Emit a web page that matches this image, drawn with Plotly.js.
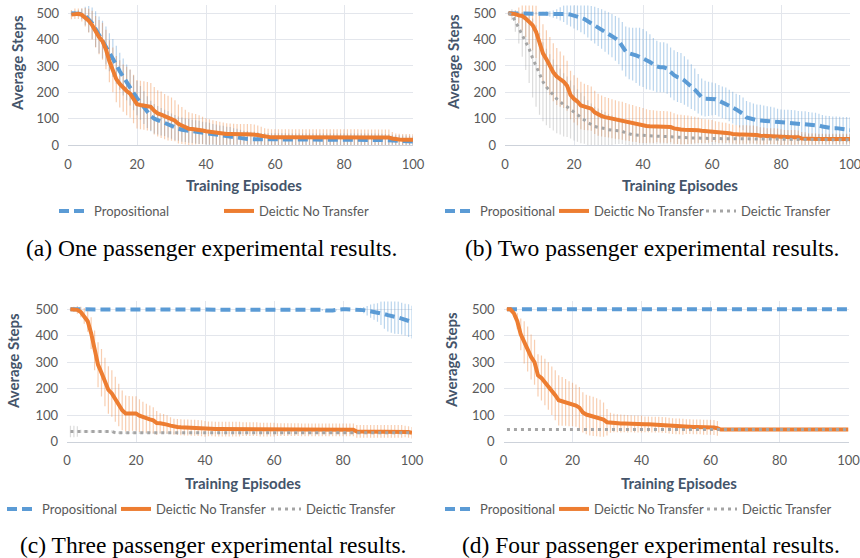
<!DOCTYPE html>
<html>
<head>
<meta charset="utf-8">
<script src="https://cdn.plot.ly/plotly-3.0.1.min.js"></script>
<style>html,body{margin:0;padding:0;background:#fff;}#chart{width:860px;height:558px;}</style>
</head>
<body>
<div id="chart"></div>
<script>
// ---------- DATA ----------
const episodes = [1,2,3,4,5,6,7,8,9,10,11,12,13,14,15,16,17,18,19,20,21,22,23,24,25,26,27,28,29,30,31,32,33,34,35,36,37,38,39,40,41,42,43,44,45,46,47,48,49,50,51,52,53,54,55,56,57,58,59,60,61,62,63,64,65,66,67,68,69,70,71,72,73,74,75,76,77,78,79,80,81,82,83,84,85,86,87,88,89,90,91,92,93,94,95,96,97,98,99,100];

const seriesNames = ["Propositional", "Deictic No Transfer", "Deictic Transfer"];
const xTickVals = [0, 20, 40, 60, 80, 100];
const yTickVals = [0, 100, 200, 300, 400, 500];
const xTitle = "Training Episodes";
const yTitle = "Average Steps";
const captions = ["(a) One passenger experimental results.", "(b) Two passenger experimental results.",
                  "(c) Three passenger experimental results.", "(d) Four passenger experimental results."];

// (a) one passenger
const propA = [500,500,500,497,490,478,462,440,418,400, 378,352,330,305,280,258,238,218,198,178, 160,142,125,110,100,94,88,84,78,72, 66,62,58,56,54,52,50,48,46,44, 42,40,38,36,35,33,32,30,28,26, 24,23,22,22,21,20,20,20,20,20, 20,20,20,20,20,20,20,20,20,20, 20,20,20,20,20,20,20,20,20,20, 20,20,20,20,20,20,20,20,20,20, 19,18,17,16,15,15,14,14,13,13];
const propAErr = [8,10,12,20,35,50,60,68,70,72, 72,72,72,72,70,70,68,68,66,65, 64,62,60,58,56,54,52,50,50,48, 48,46,46,45,45,44,44,44,42,42, 42,40,40,38,38,36,36,34,34,32, 30,30,28,28,27,26,26,25,25,25, 25,25,25,24,24,24,24,24,24,24, 24,24,24,24,24,24,24,24,24,24, 24,24,24,24,24,24,24,24,24,24, 24,24,24,23,22,22,22,22,22,22];
const noTrA = [495,498,498,494,485,472,455,430,410,394, 363,318,285,250,232,216,205,195,175,155, 152,150,147,145,130,120,115,108,102,98, 92,80,74,68,62,61,60,58,55,52, 50,48,46,44,43,42,42,41,41,41, 41,41,41,40,38,35,32,30,29,29, 29,29,29,29,29,29,29,29,29,29, 29,29,29,29,29,29,29,29,29,29, 29,29,29,29,28,28,28,28,28,28, 28,28,28,25,22,21,20,20,20,20];
const noTrAErr = [18,20,20,25,35,45,55,60,65,70, 75,80,85,88,90,90,92,92,92,92, 92,92,92,90,90,88,88,86,85,82, 78,74,70,66,62,60,58,55,52,50, 48,46,45,44,42,41,40,40,39,39, 39,39,39,38,36,34,32,32,31,31, 31,31,31,31,31,31,31,31,31,31, 31,31,31,31,31,31,31,31,31,31, 31,31,31,31,31,31,31,31,31,31, 31,31,31,24,22,22,22,22,22,22];

// (b) two passengers
const propB = [500,500,500,500,500,500,500,500,500,500, 500,499,498,497,497,498,499,497,495,492, 488,483,478,470,462,455,448,440,432,424, 415,405,395,375,355,348,345,340,335,330, 322,315,306,298,295,295,290,275,265,258, 254,245,235,222,210,195,182,176,175,175, 174,168,162,158,150,142,135,128,118,105, 100,96,94,93,92,91,90,88,86,85, 84,84,83,82,81,80,80,79,78,77, 74,70,67,66,64,64,62,60,58,57];
const propBErr = [0,0,0,0,2,3,4,5,5,5, 6,8,10,14,18,25,32,40,45,50, 52,55,58,62,66,70,72,75,78,80, 82,85,88,92,95,98,100,105,110,110, 110,105,100,98,95,95,95,95,95,95, 95,92,90,85,80,75,70,68,65,62, 60,60,60,60,60,60,60,62,62,62, 62,62,60,60,58,56,55,54,52,50, 50,50,50,50,48,48,48,46,45,45, 45,44,44,44,44,44,45,46,48,48];
const noTrB = [500,500,497,492,490,480,468,455,430,388, 348,326,300,276,260,250,240,225,190,175, 165,150,145,142,138,124,115,110,106,103, 100,97,94,92,88,85,82,79,76,74, 72,71,70,70,69,69,68,68,63,60, 59,58,58,57,57,56,54,53,53,53, 50,48,47,46,45,42,40,40,40,40, 40,40,38,35,34,34,34,34,33,30, 29,29,29,29,29,25,24,23,23,23, 23,23,23,23,23,23,23,23,23,23];
const noTrBErr = [5,8,15,30,55,70,85,95,100,105, 110,110,110,110,108,105,100,95,92,90, 90,90,88,86,84,82,80,78,76,75, 74,73,72,72,71,70,70,68,68,66, 64,62,62,60,60,60,60,58,58,56, 56,55,54,52,50,48,46,45,44,42, 40,40,38,38,36,36,35,35,35,35, 34,34,33,32,32,30,30,30,30,30, 28,28,28,28,26,24,24,22,22,22, 20,20,20,20,20,20,20,20,20,20];
const trB = [500,495,470,445,420,395,365,330,300,270, 240,220,205,190,175,165,152,145,135,122, 112,102,95,85,78,70,67,65,62,58, 56,55,54,52,46,41,39,38,37,36, 35,35,34,34,33,32,32,31,30,30, 29,28,28,27,27,26,26,25,25,25, 24,24,24,24,24,23,23,23,23,23, 23,23,22,22,22,22,22,22,22,22, 22,22,21,21,21,21,21,21,21,21, 21,21,20,20,20,20,20,20,20,20];
const trBErr = [5,20,40,60,85,110,130,150,155,155, 150,145,140,135,130,125,120,115,110,105, 100,95,90,85,80,75,72,68,64,60, 56,52,50,48,45,42,40,38,36,35, 34,33,32,31,30,30,29,28,28,27, 27,26,26,25,25,24,24,23,23,23, 22,22,22,22,22,22,22,22,22,22, 21,21,21,21,21,21,21,21,21,21, 20,20,20,20,20,20,20,20,20,20, 20,20,20,20,20,20,20,20,20,20];

// (c) three passengers
const propC = [500,500,500,500,500,500,500,500,500,500, 500,500,500,500,500,500,500,500,500,500, 500,500,500,500,500,500,500,500,500,500, 500,500,500,500,500,500,500,500,500,500, 500,500,500,500,500,500,500,500,500,500, 500,500,500,500,500,500,500,500,500,500, 500,500,500,500,500,500,500,500,500,500, 500,500,500,498,496,495,496,498,500,500, 500,500,500,500,498,497,495,493,491,488, 486,482,478,476,473,469,465,461,457,452];
const propCErr = [0,0,0,0,0,0,0,0,0,0, 0,0,0,0,0,0,0,0,0,0, 0,0,0,0,0,0,0,0,0,0, 0,0,0,0,0,0,0,0,0,0, 0,0,0,0,0,0,0,0,0,0, 0,0,0,0,0,0,0,0,0,0, 0,0,0,0,0,0,0,0,0,0, 0,0,0,3,4,5,4,3,0,0, 0,0,0,0,8,12,18,25,30,35, 45,55,62,65,65,62,60,60,62,62];
const noTrC = [500,500,498,490,475,455,410,345,290,260, 225,195,182,160,138,118,106,106,106,106, 98,92,88,84,80,70,69,68,64,60, 56,55,54,53,53,52,52,51,50,48, 48,48,47,47,47,47,47,47,47,47, 47,47,47,47,47,45,45,45,45,45, 45,45,45,45,45,45,45,44,44,44, 44,44,44,44,44,44,44,44,44,44, 44,44,44,38,38,38,38,38,38,38, 38,38,38,38,38,38,38,38,36,33];
const noTrCErr = [5,10,15,20,30,40,60,75,85,90, 92,90,88,85,80,75,68,66,65,65, 62,58,55,52,50,45,38,36,35,32, 30,30,30,30,30,30,30,30,30,30, 28,28,28,28,28,28,28,28,28,28, 26,26,26,26,26,26,26,26,26,26, 24,24,24,24,24,24,24,24,24,24, 24,24,24,24,24,24,24,24,24,24, 24,24,24,24,24,24,24,24,24,24, 24,24,24,24,24,24,24,22,22,22];
const trC = [38,38,38,38,38,38,38,38,38,38, 38,38,38,33,33,33,33,33,33,33, 33,33,33,33,33,33,33,33,33,33, 33,33,33,33,33,33,33,33,33,33, 33,33,33,33,33,33,33,33,33,33, 33,33,33,33,33,33,33,33,33,33, 33,33,33,33,33,33,33,33,33,33, 33,33,33,33,33,33,33,33,33,33, 33,33,33,33,33,33,33,33,33,33, 33,33,33,33,33,33,33,33,33,33];
const trCErr = [22,22,20,6,5,5,5,5,5,5, 5,5,5,5,5,5,5,5,5,5, 5,5,5,5,5,5,5,5,5,5, 5,5,5,5,5,5,5,5,5,5, 5,5,5,5,5,5,5,5,5,5, 5,5,5,5,5,5,5,5,5,5, 5,5,5,5,5,5,5,5,5,5, 5,5,5,5,5,5,5,5,5,5, 5,5,5,5,5,5,5,5,5,5, 5,5,5,5,5,5,5,5,5,5];

// (d) four passengers
const propD = [500,500,500,500,500,500,500,500,500,500, 500,500,500,500,500,500,500,500,500,500, 500,500,500,500,500,500,500,500,500,500, 500,500,500,500,500,500,500,500,500,500, 500,500,500,500,500,500,500,500,500,500, 500,500,500,500,500,500,500,500,500,500, 500,500,500,500,500,500,500,500,500,500, 500,500,500,500,500,500,500,500,500,500, 500,500,500,500,500,500,500,500,500,500, 500,500,500,500,500,500,500,500,500,500];
const noTrD = [500,500,485,455,405,375,350,320,300,250, 240,225,210,192,175,156,152,148,143,140, 136,128,110,102,98,95,92,88,83,73, 71,70,69,68,68,67,67,66,66,66, 65,65,64,64,64,63,62,60,58,57, 57,56,56,56,55,55,55,54,54,54, 53,50,45,45,45,45,45,45,45,45, 45,45,45,45,45,45,45,45,45,45, 45,45,45,45,45,45,45,45,45,45, 45,45,45,45,45,45,45,45,45,45];
const noTrDErr = [5,8,15,30,60,80,85,85,85,80, 85,88,90,92,95,95,92,88,85,82, 80,78,76,75,75,74,72,70,65,50, 38,35,34,34,33,33,32,32,32,32, 30,30,30,30,30,30,30,30,30,30, 30,30,28,28,28,28,28,28,28,28, 28,28,0,0,0,0,0,0,0,0, 0,0,0,0,0,0,0,0,0,0, 0,0,0,0,0,0,0,0,0,0, 0,0,0,0,0,0,0,0,0,0];
const trD = [45,45,45,45,45,45,45,45,45,45, 45,45,45,45,45,45,45,45,45,45, 45,45,45,45,45,45,45,45,45,45, 45,45,45,45,45,45,45,45,45,45, 45,45,45,45,45,45,45,45,45,45, 45,45,45,45,45,45,45,45,45,45, 45,45,45,45,45,45,45,45,45,45, 45,45,45,45,45,45,45,45,45,45, 45,45,45,45,45,45,45,45,45,45, 45,45,45,45,45,45,45,45,45,45];

// ---------- STYLE ----------
const W = 860, H = 558;
const px = v => v / W;
const py = v => 1 - v / H;
const COL = {
  prop: '#5B9BD5', noTr: '#ED7D31', tr: '#A5A5A5',
  propErr: 'rgba(91,155,213,0.42)', noTrErr: 'rgba(237,125,49,0.38)', trErr: 'rgba(150,150,150,0.33)'
};
const LINE = {
  prop: {color: COL.prop, width: 4, dash: '10px,5px'},
  noTr: {color: COL.noTr, width: 4},
  tr:   {color: COL.tr, width: 3, dash: '3px,4px'}
};
const FONT = 'Lato, "Open Sans", sans-serif';

// panels: pixel geometry of plot areas
const panels = [
  {x0: 68,    x1: 413,   y0: 5.4,   y1: 145,   xa: 'x',  ya: 'y'},
  {x0: 505,   x1: 850,   y0: 5.4,   y1: 145,   xa: 'x2', ya: 'y2'},
  {x0: 67,    x1: 412,   y0: 301.4, y1: 441.5, xa: 'x3', ya: 'y3'},
  {x0: 503.5, x1: 848.5, y0: 301.4, y1: 441.5, xa: 'x4', ya: 'y4'}
];

const panelSeries = [
  [{k: 'prop', y: propA, e: propAErr}, {k: 'noTr', y: noTrA, e: noTrAErr}],
  [{k: 'prop', y: propB, e: propBErr}, {k: 'noTr', y: noTrB, e: noTrBErr}, {k: 'tr', y: trB, e: trBErr}],
  [{k: 'prop', y: propC, e: propCErr}, {k: 'noTr', y: noTrC, e: noTrCErr}, {k: 'tr', y: trC, e: trCErr}],
  [{k: 'prop', y: propD, e: null},     {k: 'noTr', y: noTrD, e: noTrDErr}, {k: 'tr', y: trD, e: null}]
];
const nameOf = {prop: seriesNames[0], noTr: seriesNames[1], tr: seriesNames[2]};

// legend pixel positions (text start x, row center y)
const legendPos = [
  [{t: 93, y: 211}, {t: 258, y: 211}],
  [{t: 479, y: 211}, {t: 593, y: 211}, {t: 740, y: 211}],
  [{t: 41, y: 509}, {t: 155, y: 509}, {t: 305, y: 509}],
  [{t: 479, y: 509}, {t: 593, y: 509}, {t: 741, y: 509}]
];

const data = [];
const layout = {
  width: W, height: H, margin: {l: 0, r: 0, t: 0, b: 0},
  paper_bgcolor: '#fff', plot_bgcolor: '#fff', showlegend: true,
  annotations: []
};

let legendCount = 0;
panels.forEach((p, i) => {
  const xs = i === 0 ? 'xaxis' : 'xaxis' + (i + 1);
  const ys = i === 0 ? 'yaxis' : 'yaxis' + (i + 1);
  layout[xs] = {
    domain: [px(p.x0), px(p.x1)], anchor: p.ya, range: [0, 100], tickvals: xTickVals,
    showgrid: true, gridcolor: '#E3E6EC', gridwidth: 1, zeroline: false,
    showline: true, linecolor: '#CDD2DA', linewidth: 1, ticks: '', ticklabeloverflow: 'allow',
    tickfont: {family: FONT, size: 13, color: '#595959'}, ticklabelstandoff: 7, fixedrange: true
  };
  layout[ys] = {
    domain: [py(p.y1), py(p.y0)], anchor: p.xa, range: [0, 530], tickvals: yTickVals,
    showgrid: true, gridcolor: '#E3E6EC', gridwidth: 1, zeroline: false, showline: false, ticks: '',
    tickfont: {family: FONT, size: 13, color: '#595959'}, ticklabelstandoff: 8, fixedrange: true
  };
  // error bars first (underneath)
  panelSeries[i].forEach(s => {
    if (!s.e) return;
    data.push({
      type: 'scatter', mode: 'markers', x: episodes, y: s.y, xaxis: p.xa, yaxis: p.ya,
      marker: {size: 1, color: 'rgba(0,0,0,0)'}, showlegend: false, hoverinfo: 'skip',
      error_y: {type: 'data', array: s.e, visible: true, color: COL[s.k + 'Err'], thickness: 1.2, width: 0}
    });
  });
  // lines
  panelSeries[i].forEach((s, j) => {
    legendCount++;
    const lname = legendCount === 1 ? 'legend' : 'legend' + legendCount;
    data.push({
      type: 'scatter', mode: 'lines', x: episodes, y: s.y, xaxis: p.xa, yaxis: p.ya,
      name: nameOf[s.k], line: LINE[s.k], legend: lname, hoverinfo: 'skip'
    });
    const lp = legendPos[i][j];
    layout[lname] = {
      x: px(lp.t - 39), y: py(lp.y), xanchor: 'left', yanchor: 'middle', orientation: 'h',
      bgcolor: 'rgba(0,0,0,0)', borderwidth: 0, itemwidth: 30,
      font: {family: FONT, size: 13, color: '#595959'}
    };
  });
});

// axis titles & captions
const xTitlePos = [{x: 244, y: 185}, {x: 680, y: 185}, {x: 243, y: 483}, {x: 679, y: 483}];
const yTitlePos = [{x: 17, y: 63}, {x: 453, y: 62}, {x: 13, y: 361}, {x: 451, y: 360}];
const capPos = [{x: 211, y: 248}, {x: 652, y: 248}, {x: 213, y: 545}, {x: 651, y: 545}];
for (let i = 0; i < 4; i++) {
  layout.annotations.push({
    text: '<b>' + xTitle + '</b>', xref: 'paper', yref: 'paper', x: px(xTitlePos[i].x), y: py(xTitlePos[i].y),
    xanchor: 'center', yanchor: 'middle', showarrow: false,
    font: {family: FONT, size: 15, color: '#44546A'}
  });
  layout.annotations.push({
    text: '<b>' + yTitle + '</b>', xref: 'paper', yref: 'paper', x: px(yTitlePos[i].x), y: py(yTitlePos[i].y),
    xanchor: 'center', yanchor: 'middle', showarrow: false, textangle: -90,
    font: {family: FONT, size: 15, color: '#44546A'}
  });
  layout.annotations.push({
    text: captions[i], xref: 'paper', yref: 'paper', x: px(capPos[i].x), y: py(capPos[i].y),
    xanchor: 'center', yanchor: 'middle', showarrow: false,
    font: {family: '"Liberation Serif", "Times New Roman", serif', size: 23.5, color: '#000'}
  });
}

Plotly.newPlot('chart', data, layout, {displayModeBar: false, staticPlot: true});
</script>
</body>
</html>
